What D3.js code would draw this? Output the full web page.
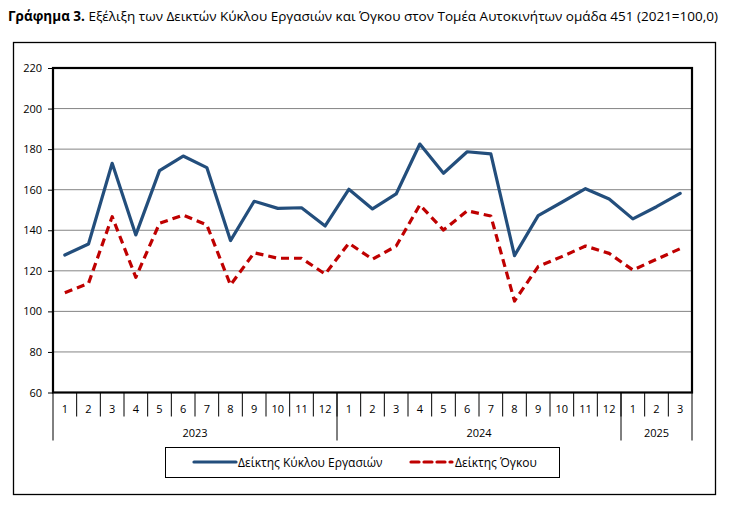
<!DOCTYPE html>
<html><head><meta charset="utf-8">
<script src="https://cdn.jsdelivr.net/npm/d3@7"></script>
<style>body{margin:0;background:#fff}</style>
</head><body>
<script>
const months = ["1","2","3","4","5","6","7","8","9","10","11","12","1","2","3","4","5","6","7","8","9","10","11","12","1","2","3"];
const years = [{label:"2023",n:12},{label:"2024",n:12},{label:"2025",n:3}];
const turnover = [127.8,133.2,173.0,137.7,169.4,176.6,170.9,134.9,154.3,150.8,151.1,142.1,
                  160.2,150.5,157.9,182.5,168.1,178.7,177.7,127.5,147.2,153.8,160.5,155.4,
                  145.6,151.6,158.2];
const volume = [109.2,113.8,146.7,116.8,143.4,147.5,142.6,113.0,128.9,126.2,126.2,118.4,
                133.6,125.7,132.2,152.5,140.1,149.6,147.0,105.1,122.1,127.0,132.2,128.6,
                120.4,125.7,130.9];
const yTicks = [60,80,100,120,140,160,180,200,220];
const seriesNames = ["Δείκτης Κύκλου Εργασιών","Δείκτης Όγκου"];
const titleBold = "Γράφημα 3.";
const titleRest = " Εξέλιξη των Δεικτών Κύκλου Εργασιών και Όγκου στον Τομέα Αυτοκινήτων ομάδα 451 (2021=100,0)";

const W=741,H=514;
const font="'Open Sans', sans-serif";
const svg=d3.select("body").append("svg").attr("width",W).attr("height",H)
  .style("font-family",font);

// title
const t=svg.append("text").attr("x",8).attr("y",21).attr("font-size",13.5).attr("fill","#000");
t.append("tspan").attr("font-weight","bold").text(titleBold);
t.append("tspan").text(titleRest);

// outer box
svg.append("rect").attr("x",13.5).attr("y",42.5).attr("width",702).attr("height",452)
  .attr("fill","none").attr("stroke","#000").attr("stroke-width",1.3);

const L=53,R=692,T=68,B=392.5;
const x=d3.scaleBand().domain(d3.range(months.length)).range([L,R]);
const y=d3.scaleLinear().domain([60,220]).range([B,T]);

// gridlines
svg.append("g").selectAll("line").data(yTicks.filter(v=>v>60&&v<220)).join("line")
  .attr("x1",L).attr("x2",R).attr("y1",d=>y(d)).attr("y2",d=>y(d))
  .attr("stroke","#858585").attr("stroke-width",1);

// y axis
const ya=svg.append("g").attr("transform",`translate(${L},0)`)
  .call(d3.axisLeft(y).tickValues(yTicks).tickSize(5).tickPadding(6));
ya.select(".domain").remove();
ya.selectAll("line").attr("stroke","#000");
ya.selectAll("text").attr("font-size",11).attr("font-family",font).attr("fill","#000");

// x axis: month cells
const xg=svg.append("g");
xg.selectAll("text").data(months).join("text")
  .attr("x",(d,i)=>x(i)+x.bandwidth()/2).attr("y",B+20).attr("text-anchor","middle")
  .attr("font-size",11).text(d=>d);
xg.selectAll("line.sep").data(d3.range(1,months.length)).join("line").attr("class","sep")
  .attr("x1",i=>x(i)).attr("x2",i=>x(i)).attr("y1",B).attr("y2",B+24)
  .attr("stroke","#000").attr("stroke-width",1);
// year groups
let start=0;
const yb=[];
years.forEach(yr=>{yb.push({label:yr.label,s:start,e:start+yr.n});start+=yr.n;});
const bounds=[0,...yb.map(d=>d.e)];
xg.selectAll("line.yr").data(bounds).join("line").attr("class","yr")
  .attr("x1",i=>i<months.length?x(i):R).attr("x2",i=>i<months.length?x(i):R)
  .attr("y1",B).attr("y2",B+48).attr("stroke","#000").attr("stroke-width",1);
xg.selectAll("text.yl").data(yb).join("text").attr("class","yl")
  .attr("x",d=>(x(d.s)+(d.e<months.length?x(d.e):R))/2).attr("y",B+44)
  .attr("text-anchor","middle").attr("font-size",11).text(d=>d.label);

// plot frame
svg.append("rect").attr("x",L).attr("y",T).attr("width",R-L).attr("height",B-T)
  .attr("fill","none").attr("stroke","#000").attr("stroke-width",2.2);

const blue="#234E7C", red="#BF0000";
const line=d3.line().x((d,i)=>x(i)+x.bandwidth()/2).y(d=>y(d));
svg.append("path").datum(turnover).attr("d",line).attr("fill","none")
  .attr("stroke",blue).attr("stroke-width",3.2).attr("stroke-linejoin","round").attr("stroke-linecap","round");
svg.append("path").datum(volume).attr("d",line).attr("fill","none")
  .attr("stroke",red).attr("stroke-width",3.2).attr("stroke-dasharray","8,5").attr("stroke-linejoin","round");

// legend
const lg=svg.append("g");
lg.append("rect").attr("x",165.5).attr("y",447.5).attr("width",394).attr("height",30)
  .attr("fill","#fff").attr("stroke","#000").attr("stroke-width",1);
lg.append("line").attr("x1",194).attr("x2",236).attr("y1",462).attr("y2",462)
  .attr("stroke",blue).attr("stroke-width",3.2).attr("stroke-linecap","round");
lg.append("text").attr("x",238).attr("y",466.5).attr("font-size",12).text(seriesNames[0]);
lg.append("line").attr("x1",411).attr("x2",452).attr("y1",462).attr("y2",462)
  .attr("stroke",red).attr("stroke-width",3.2).attr("stroke-dasharray","8,5").attr("stroke-linecap","round");
lg.append("text").attr("x",455).attr("y",466.5).attr("font-size",12).text(seriesNames[1]);
</script>
</body></html>
